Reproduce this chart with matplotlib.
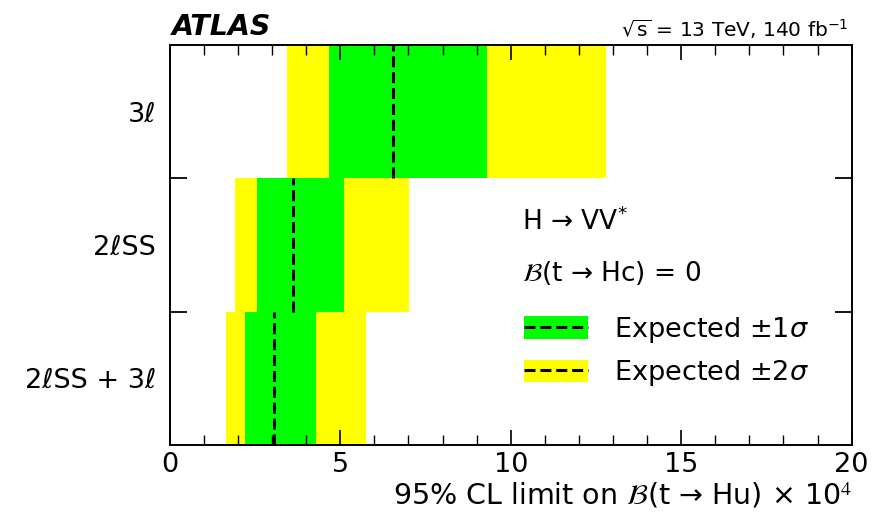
import matplotlib
matplotlib.use("Agg")
import matplotlib.pyplot as plt
from matplotlib.patches import Patch
from matplotlib.lines import Line2D
from matplotlib.legend_handler import HandlerTuple
from matplotlib.font_manager import FontProperties
from matplotlib.ticker import MultipleLocator

plt.rcParams['font.family'] = ['DejaVu Sans']
plt.rcParams['mathtext.fontset'] = 'stix'

# expected limits on B(t -> Hu) x 10^4, one row per channel (bottom to top)
channels = ['2ℓSS + 3ℓ', '2ℓSS', '3ℓ']
median = [3.06, 3.60, 6.56]
minus2 = [1.64, 1.91, 3.44]
minus1 = [2.20, 2.56, 4.67]
plus1 = [4.30, 5.11, 9.30]
plus2 = [5.76, 7.01, 12.78]

green = '#00ff00'
yellow = '#ffff00'
dash = (3.6, 1.6)

fig = plt.figure(figsize=(8.89, 5.24), dpi=100)
ax = fig.add_axes([0.191, 0.151, 0.767, 0.763])

for i in range(len(channels)):
    ax.barh(i + 0.5, plus2[i] - minus2[i], left=minus2[i], height=1.0,
            color=yellow, linewidth=0)
    ax.barh(i + 0.5, plus1[i] - minus1[i], left=minus1[i], height=1.0,
            color=green, linewidth=0)
    ax.plot([median[i], median[i]], [i, i + 1], color='black', lw=2.2,
            linestyle=(0, dash))

ax.set_xlim(0, 20)
ax.set_ylim(0, len(channels))

ax.xaxis.set_major_locator(MultipleLocator(5))
ax.xaxis.set_minor_locator(MultipleLocator(1))
ax.tick_params(axis='x', which='major', direction='in', length=11, width=1.2,
               top=True, labelsize=19.5, pad=5)
ax.tick_params(axis='x', which='minor', direction='in', length=7, width=1.0,
               top=True)

# row separators as major ticks, channel names on minor ticks
ax.set_yticks([1, 2])
ax.set_yticklabels([])
ax.set_yticks([i + 0.5 for i in range(len(channels))], minor=True)
ax.set_yticklabels(channels, minor=True)
ax.tick_params(axis='y', which='major', direction='in', length=12, width=1.3,
               right=True)
ax.tick_params(axis='y', which='minor', length=0, labelsize=19.5, pad=10)

for sp in ax.spines.values():
    sp.set_linewidth(1.4)

ax.set_xlabel(r'95% CL limit on $\mathcal{B}$(t → Hu) × 10$^4$',
              fontsize=20.5, loc='right', labelpad=2)

fig.text(0.193, 0.933, 'ATLAS', fontsize=20.5, fontweight='bold',
         fontstyle='italic', ha='left', va='baseline')
fig.text(0.955, 0.930, r'$\sqrt{\mathrm{s}}$ = 13 TeV, 140 fb$^{-1}$',
         fontsize=14.5, ha='right', va='baseline',
         math_fontfamily='dejavusans')

ax.text(0.517, 0.5375, r'H → VV$^{*}$', transform=ax.transAxes,
        fontsize=19, va='baseline', math_fontfamily='dejavusans')
ax.text(0.517, 0.41, r'$\mathcal{B}$(t → Hc) = 0', transform=ax.transAxes,
        fontsize=19, va='baseline')

handles = [
    (Patch(color=green, linewidth=0),
     Line2D([], [], color='black', lw=2.2, linestyle=(0, dash))),
    (Patch(color=yellow, linewidth=0),
     Line2D([], [], color='black', lw=2.2, linestyle=(0, dash))),
]
labels = [r'Expected ±1$\sigma$', r'Expected ±2$\sigma$']
leg_font = FontProperties(family='DejaVu Sans', size=19.5,
                          math_fontfamily='dejavusans')
ax.legend(handles, labels, handler_map={tuple: HandlerTuple(ndivide=1)},
          loc='upper left', bbox_to_anchor=(0.519, 0.325), frameon=False,
          prop=leg_font, handlelength=2.36, handleheight=0.89,
          handletextpad=0.96, labelspacing=0.5, borderpad=0, borderaxespad=0)

fig.savefig('out.png', dpi=100)
